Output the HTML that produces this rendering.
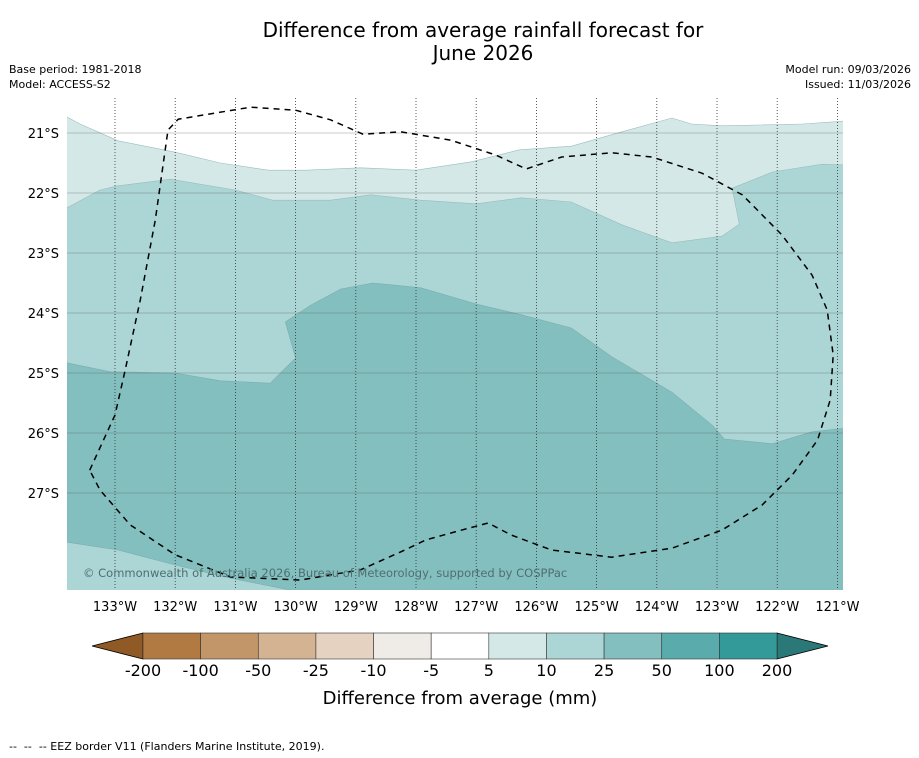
<!DOCTYPE html>
<html><head><meta charset="utf-8">
<style>
body{margin:0;background:#fff;font-family:"DejaVu Sans",sans-serif;}
#wrap{position:relative;width:919px;height:758px;overflow:hidden;background:#fff;}
.t{position:absolute;font-size:11px;color:#000;}
</style></head>
<body>
<div id="wrap">
<div style="position:absolute;left:0;width:966px;top:19px;text-align:center;font-size:20px;line-height:23px;">Difference from average rainfall forecast for<br>June 2026</div>
<div class="t" style="left:9px;top:63px;">Base period: 1981-2018</div>
<div class="t" style="left:9px;top:78px;">Model: ACCESS-S2</div>
<div class="t" style="right:8px;top:63px;text-align:right;">Model run: 09/03/2026</div>
<div class="t" style="right:8px;top:78px;text-align:right;">Issued: 11/03/2026</div>
<svg id="svg" width="919" height="758" style="position:absolute;left:0;top:0"></svg>
<div class="t" style="left:9px;top:740px;">--&nbsp; --&nbsp; -- EEZ border V11 (Flanders Marine Institute, 2019).</div>
</div>
<script>
const lonTicks=[133,132,131,130,129,128,127,126,125,124,123,122,121];
const latTicks=[21,22,23,24,25,26,27];
const cbLabels=["-200","-100","-50","-25","-10","-5","5","10","25","50","100","200"];
const cbColors=["#b07a42","#c29669","#d4b393","#e6d2c0","#efebe6","#ffffff","#d4e8e8","#acd5d5","#84bfbf","#5aacac","#339999"];
const lightLon=[133.8,133.58,132.95,132.0,131.25,130.45,129.83,128.92,128.0,127.08,126.28,125.42,124.58,123.75,123.42,122.92,121.58,120.87];
const lightLat=[20.73,20.85,21.13,21.32,21.5,21.62,21.62,21.58,21.62,21.48,21.28,21.22,20.98,20.75,20.85,20.88,20.85,20.8];
const midLon=[133.8,133.25,132.95,132.08,131.0,130.38,129.42,128.75,127.92,127.0,126.25,125.42,124.58,123.75,122.92,122.63,122.75,122.08,121.25,120.87];
const midLat=[22.25,21.95,21.88,21.77,21.95,22.12,22.12,22.03,22.12,22.18,22.08,22.15,22.53,22.83,22.72,22.52,21.92,21.65,21.52,21.53];
const darkLon=[133.8,133.08,132.0,131.25,130.42,130.0,130.17,129.75,129.25,128.72,127.92,127.0,126.25,125.42,124.75,123.75,123.08,122.88,122.08,121.42,120.87,120.87,130.08,131.08,132.0,132.95,133.8];
const darkLat=[24.83,24.98,25.0,25.13,25.17,24.75,24.15,23.87,23.6,23.5,23.58,23.85,24.03,24.25,24.73,25.32,25.87,26.1,26.18,25.98,25.92,28.62,28.62,28.42,28.2,27.95,27.82];
const eezLon=[133.42,133.0,132.83,132.58,132.33,132.12,131.95,130.75,130.0,129.42,128.88,128.25,127.42,126.67,126.17,125.58,124.75,124.08,123.25,122.58,121.92,121.42,121.17,121.07,121.12,121.33,121.75,122.25,122.92,123.75,124.75,125.75,126.42,126.8,127.25,127.83,128.25,128.92,129.92,131.08,132.0,132.75,133.25,133.42];
const eezLat=[26.62,25.7,24.95,23.78,22.45,20.95,20.77,20.57,20.62,20.78,21.02,20.98,21.12,21.37,21.6,21.4,21.33,21.4,21.67,22.03,22.7,23.37,23.95,24.7,25.45,26.12,26.7,27.2,27.62,27.92,28.07,27.95,27.7,27.5,27.62,27.78,27.98,28.28,28.45,28.4,28.03,27.53,26.95,26.62];

const NS="http://www.w3.org/2000/svg";
const FF='DejaVu Sans, sans-serif';
const svg=document.getElementById('svg');
const X0=67,X1=843,Y0=98,Y1=590;
function sx(lon){return 115+(133-lon)*60.2;}
function sy(lat){return 133+(lat-21)*60;}
function mk(tag,attrs,parent){const e=document.createElementNS(NS,tag);for(const k in attrs)e.setAttribute(k,attrs[k]);(parent||svg).appendChild(e);return e;}
const defs=mk('defs',{});
const cp=mk('clipPath',{id:'mc'},defs);
mk('rect',{x:X0,y:Y0,width:X1-X0,height:Y1-Y0},cp);
const g=mk('g',{'clip-path':'url(#mc)'});


mk('rect',{x:X0,y:Y0,width:X1-X0,height:Y1-Y0,fill:'#ffffff'},g);
function ptsOf(lons,lats){return lons.map((l,i)=>sx(l).toFixed(1)+','+sy(lats[i]).toFixed(1)).join(' ');}
function band(lons,lats,fill,name){
  let p=ptsOf(lons,lats)+' '+sx(120.5)+','+sy(29)+' '+sx(134.2)+','+sy(29);
  const e=mk('polygon',{points:p,fill:fill,stroke:'#9bbcbc','stroke-width':0.6},g);
  
  
}
band(lightLon,lightLat,'#d4e8e8','contour-5-10');
band(midLon,midLat,'#acd5d5','contour-10-25');
const d=mk('polygon',{points:ptsOf(darkLon,darkLat),fill:'#84bfbf',stroke:'#7aadad','stroke-width':0.6},g);


lonTicks.forEach(l=>{
  const x=sx(l);
  const ln=mk('line',{x1:x,x2:x,y1:Y0,y2:Y1,stroke:'#333','stroke-width':0.8,'stroke-dasharray':'1,2'},g);
  
  
  const t=mk('text',{x:x,y:611,'text-anchor':'middle','font-size':13,'font-family':FF});
  t.textContent=l+'°W';
  
  
});
latTicks.forEach(l=>{
  const y=sy(l);
  const ln=mk('line',{x1:X0,x2:X1,y1:y,y2:y,stroke:'#555','stroke-width':0.5,'stroke-opacity':0.6},g);
  
  
  const t=mk('text',{x:59,y:y+5,'text-anchor':'end','font-size':13,'font-family':FF});
  t.textContent=l+'°S';
  
  
});
const eez=mk('polyline',{points:ptsOf(eezLon,eezLat),fill:'none',stroke:'#000','stroke-width':1.5,'stroke-dasharray':'6,5'},g);


const cr=mk('text',{x:83,y:577,'font-size':11.5,fill:'#4f6f6f','font-family':FF},g);
cr.textContent='© Commonwealth of Australia 2026, Bureau of Meteorology, supported by COSPPac';


const cb=mk('g',{});


const cbX0=143,cbX1=777,cbY0=633,cbY1=659,n=cbColors.length,w=(cbX1-cbX0)/n;
const lt=mk('polygon',{points:`${cbX0},${cbY0} ${cbX0},${cbY1} 92,646`,fill:'#8f5a26',stroke:'#000','stroke-width':0.8},cb);


const rt=mk('polygon',{points:`${cbX1},${cbY0} ${cbX1},${cbY1} 828,646`,fill:'#2a7878',stroke:'#000','stroke-width':0.8},cb);


cbColors.forEach((c,i)=>{
  const r=mk('rect',{x:cbX0+i*w,y:cbY0,width:w,height:cbY1-cbY0,fill:c,stroke:'#333','stroke-width':0.6},cb);
  
  
});
cbLabels.forEach((s,i)=>{
  const t=mk('text',{x:cbX0+i*w,y:676,'text-anchor':'middle','font-size':16,'font-family':FF},cb);
  t.textContent=s;
  
  
});
const ct=mk('text',{x:460,y:704,'text-anchor':'middle','font-size':18,'font-family':FF});
ct.textContent='Difference from average (mm)';


</script>
</body></html>
